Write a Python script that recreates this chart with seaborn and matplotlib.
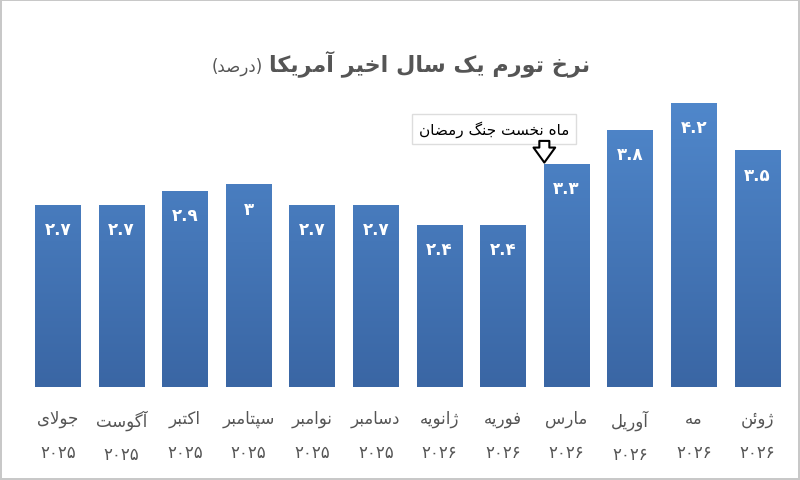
import matplotlib
matplotlib.use("Agg")
import matplotlib.pyplot as plt
import seaborn as sns
import pandas as pd
import numpy as np
from matplotlib.colors import LinearSegmentedColormap

months = ["جولای", "آگوست", "اکتبر", "سپتامبر", "نوامبر", "دسامبر",
          "ژانویه", "فوریه", "مارس", "آوریل", "مه", "ژوئن"]
years = ["2025"] * 6 + ["2026"] * 6
values = [2.7, 2.7, 2.9, 3, 2.7, 2.7, 2.4, 2.4, 3.3, 3.8, 4.2, 3.5]
title_main = "نرخ تورم یک سال اخیر آمریکا"
title_unit = "(درصد)"
note_text = "ماه نخست جنگ رمضان"
note_index = 8

# ---- minimal Persian shaping (matplotlib has no bidi / shaping) ----
F = {
    'ا': (0xFE8D, 0xFE8E), 'آ': (0xFE81, 0xFE82), 'د': (0xFEA9, 0xFEAA),
    'ذ': (0xFEAB, 0xFEAC), 'ر': (0xFEAD, 0xFEAE), 'ز': (0xFEAF, 0xFEB0),
    'و': (0xFEED, 0xFEEE), 'ژ': (0xFB8A, 0xFB8B),
    'ب': (0xFE8F, 0xFE90, 0xFE91, 0xFE92), 'ت': (0xFE95, 0xFE96, 0xFE97, 0xFE98),
    'ث': (0xFE99, 0xFE9A, 0xFE9B, 0xFE9C), 'ج': (0xFE9D, 0xFE9E, 0xFE9F, 0xFEA0),
    'ح': (0xFEA1, 0xFEA2, 0xFEA3, 0xFEA4), 'خ': (0xFEA5, 0xFEA6, 0xFEA7, 0xFEA8),
    'س': (0xFEB1, 0xFEB2, 0xFEB3, 0xFEB4), 'ش': (0xFEB5, 0xFEB6, 0xFEB7, 0xFEB8),
    'ص': (0xFEB9, 0xFEBA, 0xFEBB, 0xFEBC), 'ض': (0xFEBD, 0xFEBE, 0xFEBF, 0xFEC0),
    'ط': (0xFEC1, 0xFEC2, 0xFEC3, 0xFEC4), 'ع': (0xFEC9, 0xFECA, 0xFECB, 0xFECC),
    'غ': (0xFECD, 0xFECE, 0xFECF, 0xFED0), 'ف': (0xFED1, 0xFED2, 0xFED3, 0xFED4),
    'ق': (0xFED5, 0xFED6, 0xFED7, 0xFED8), 'ل': (0xFEDD, 0xFEDE, 0xFEDF, 0xFEE0),
    'م': (0xFEE1, 0xFEE2, 0xFEE3, 0xFEE4), 'ن': (0xFEE5, 0xFEE6, 0xFEE7, 0xFEE8),
    'ه': (0xFEE9, 0xFEEA, 0xFEEB, 0xFEEC), 'ئ': (0xFE89, 0xFE8A, 0xFE8B, 0xFE8C),
    'ی': (0xFBFC, 0xFBFD, 0xFBFE, 0xFBFF), 'ک': (0xFB8E, 0xFB8F, 0xFB90, 0xFB91),
    'گ': (0xFB92, 0xFB93, 0xFB94, 0xFB95), 'پ': (0xFB56, 0xFB57, 0xFB58, 0xFB59),
}
DIG = str.maketrans("0123456789", "۰۱۲۳۴۵۶۷۸۹")


def shape(s):
    out = []
    i = 0
    n = len(s)
    while i < n:
        c = s[i]
        if c not in F:
            out.append(c); i += 1; continue
        prev = s[i - 1] if i > 0 else ''
        pj = prev in F and len(F[prev]) == 4
        if c == 'ل' and i + 1 < n and s[i + 1] in 'اآ':
            lig = (0xFEFB, 0xFEFC) if s[i + 1] == 'ا' else (0xFEF5, 0xFEF6)
            out.append(chr(lig[1] if pj else lig[0])); i += 2; continue
        nxt = s[i + 1] if i + 1 < n else ''
        nj = len(F[c]) == 4 and nxt in F
        f = F[c]
        if pj and nj:
            out.append(chr(f[3]))
        elif pj:
            out.append(chr(f[1]))
        elif nj:
            out.append(chr(f[2]))
        else:
            out.append(chr(f[0]))
        i += 1
    toks, cur, isd = [], '', None
    for ch in out:
        d = ch.isdigit() or ch == '.'
        if cur and d != isd:
            toks.append((cur, isd)); cur = ''
        cur += ch; isd = d
    if cur:
        toks.append((cur, isd))
    mirror = {'(': ')', ')': '('}
    res = ''
    for t, d in reversed(toks):
        res += t if d else ''.join(mirror.get(ch, ch) for ch in reversed(t))
    return res


def fa(x):
    return ('%g' % x).translate(DIG)


sns.set_theme(style="white")
plt.rcParams['font.family'] = ['DejaVu Sans']

df = pd.DataFrame({"m": [str(i) for i in range(len(values))], "v": values})

fig = plt.figure(figsize=(8.0, 4.81), dpi=100)
fig.patch.set_facecolor("white")
fig.patch.set_edgecolor("#c8c8c8")
fig.patch.set_linewidth(1.5)
ax = fig.add_axes([0.0325, 0.193, 0.954, 0.647])
sns.barplot(data=df, x="m", y="v", color="#4677BA", saturation=1, width=0.72, ax=ax)
ax.set_xlim(-0.5, len(values) - 0.5)
ax.set_ylim(0, 4.6)

# vertical gradient fill clipped to each bar
cmap = LinearSegmentedColormap.from_list("g", ["#3a66a4", "#5088cc"])
grad = np.linspace(0, 1, 256).reshape(-1, 1)
for p in ax.patches:
    x0, y0, w, h = p.get_x(), p.get_y(), p.get_width(), p.get_height()
    im = ax.imshow(grad, cmap=cmap, origin="lower", aspect="auto",
                   extent=[x0, x0 + w, 0, 4.3], zorder=p.get_zorder() + 0.1)
    im.set_clip_path(p)
ax.set_xlim(-0.5, len(values) - 0.5)
ax.set_ylim(0, 4.6)

for s in ax.spines.values():
    s.set_visible(False)
ax.set_yticks([])
ax.set_xlabel(""); ax.set_ylabel("")
ax.set_xticks(range(len(values)))
ax.set_xticklabels([shape(m) + "\n" + y.translate(DIG) for m, y in zip(months, years)],
                   fontsize=12, color="#555555", linespacing=2.1)
ax.tick_params(axis='x', length=0, pad=16)

for i, v in enumerate(values):
    ax.text(i, v - 0.36, fa(v), ha="center", va="center", color="white",
            fontsize=12, fontweight="bold", zorder=5)

t_main = fig.text(0.738, 0.868, shape(title_main), ha="right", va="center",
                  fontsize=16, fontweight="bold", color="#555555")
fig.canvas.draw()
bb = t_main.get_window_extent(fig.canvas.get_renderer())
fig.text((bb.x0 - 6) / fig.bbox.width, 0.862, shape(title_unit), ha="right", va="center",
         fontsize=12, color="#555555")

ax.text(6.86, 3.82, shape(note_text), ha="center", va="center", fontsize=11, color="black",
        bbox=dict(boxstyle="square,pad=0.45", fc="white", ec="#dddddd"), zorder=6)
ax.annotate("", xy=(note_index - 0.35, values[note_index] + 0.02),
            xytext=(note_index - 0.35, 3.64),
            arrowprops=dict(arrowstyle="simple,head_width=1.3,head_length=0.9,tail_width=0.6",
                            fc="white", ec="black", lw=1.5, shrinkA=0, shrinkB=0), zorder=6)

fig.savefig("out.png", dpi=100, facecolor=fig.get_facecolor(), edgecolor=fig.get_edgecolor())
